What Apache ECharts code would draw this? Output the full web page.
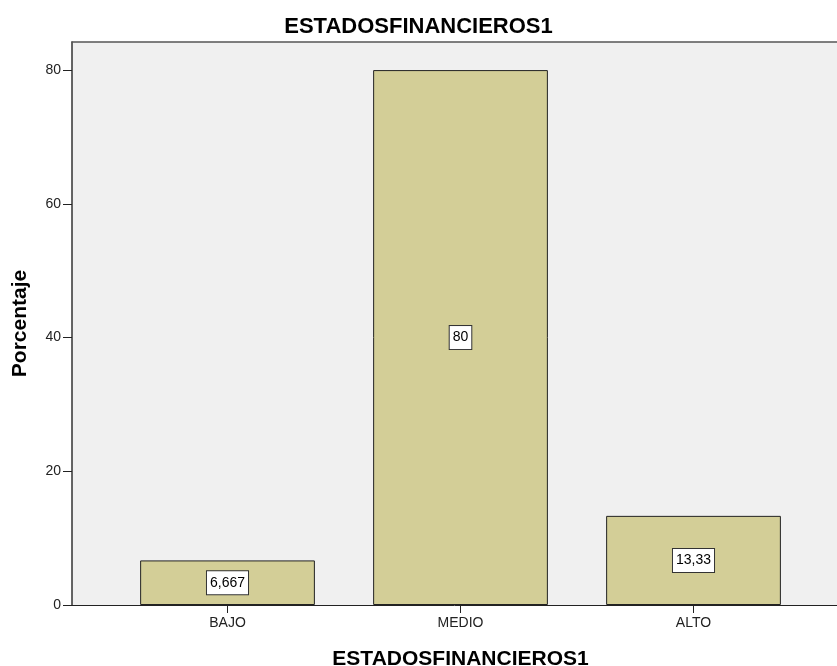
<!DOCTYPE html>
<html>
<head>
<meta charset="utf-8">
<script src="https://cdn.jsdelivr.net/npm/echarts@6/dist/echarts.min.js"></script>
<style>html,body{margin:0;padding:0;background:#fff}#c{width:837px;height:666px}</style>
</head>
<body>
<div id="c"></div>
<script>
const categories = ['BAJO', 'MEDIO', 'ALTO'];
const values = [6.667, 80, 13.33];
const valueLabels = ['6,667', '80', '13,33'];
const yTicks = [0, 20, 40, 60, 80];

const chart = echarts.init(document.getElementById('c'), null, {renderer: 'canvas'});
const YMAX = 84.2;
const font = 'Arial, "Liberation Sans", sans-serif';
chart.setOption({
  animation: false,
  backgroundColor: '#ffffff',
  title: {
    text: 'ESTADOSFINANCIEROS1',
    left: 'center',
    top: 11,
    textStyle: {fontFamily: font, fontSize: 22, fontWeight: 'bold', color: '#000'}
  },
  grid: [
    {left: 72, right: 0, top: 42, bottom: 61, show: true, backgroundColor: '#f0f0f0', borderWidth: 0, outerBoundsMode: 'none', containLabel: false},
    {left: 111, right: 27, top: 42, bottom: 61, outerBoundsMode: 'none', containLabel: false}
  ],
  xAxis: [
    {
      type: 'value', gridIndex: 0, min: 0, max: 1, position: 'bottom',
      axisLine: {show: true, lineStyle: {color: '#222', width: 1}},
      axisTick: {show: false}, axisLabel: {show: false}, splitLine: {show: false}
    },
    {
      type: 'value', gridIndex: 0, min: 0, max: 1, position: 'top',
      axisLine: {show: true, lineStyle: {color: '#555', width: 1.5}},
      axisTick: {show: false}, axisLabel: {show: false}, splitLine: {show: false}
    },
    {
      type: 'category', gridIndex: 1, data: categories,
      axisLine: {show: false},
      axisTick: {show: true, alignWithLabel: true, length: 8, lineStyle: {color: '#222'}},
      axisLabel: {margin: 11, fontFamily: font, fontSize: 14, color: '#222'},
      name: 'ESTADOSFINANCIEROS1', nameLocation: 'middle', nameGap: 44,
      nameTextStyle: {fontFamily: font, fontSize: 21, fontWeight: 'bold', color: '#000'}
    }
  ],
  yAxis: [
    {
      type: 'value', gridIndex: 0, min: 0, max: YMAX, interval: 20,
      axisLine: {show: true, lineStyle: {color: '#333', width: 1.5}},
      axisTick: {show: true, length: 9, lineStyle: {color: '#222'}, customValues: yTicks},
      axisLabel: {margin: 11, fontFamily: font, fontSize: 14, color: '#222', customValues: yTicks},
      splitLine: {show: false},
      name: 'Porcentaje', nameLocation: 'middle', nameGap: 41,
      nameTextStyle: {fontFamily: font, fontSize: 21, fontWeight: 'bold', color: '#000'}
    },
    {
      type: 'value', gridIndex: 1, min: 0, max: YMAX, show: false
    }
  ],
  series: [{
    type: 'bar', xAxisIndex: 2, yAxisIndex: 1,
    data: values, barWidth: '75%',
    itemStyle: {color: '#d3ce97', borderColor: '#222', borderWidth: 1},
    label: {
      show: true, position: 'inside',
      formatter: p => valueLabels[p.dataIndex],
      fontFamily: font, fontSize: 14, color: '#000',
      backgroundColor: '#fff', borderColor: '#333', borderWidth: 1, padding: [5, 3, 4, 3]
    }
  }]
});
</script>
</body>
</html>
